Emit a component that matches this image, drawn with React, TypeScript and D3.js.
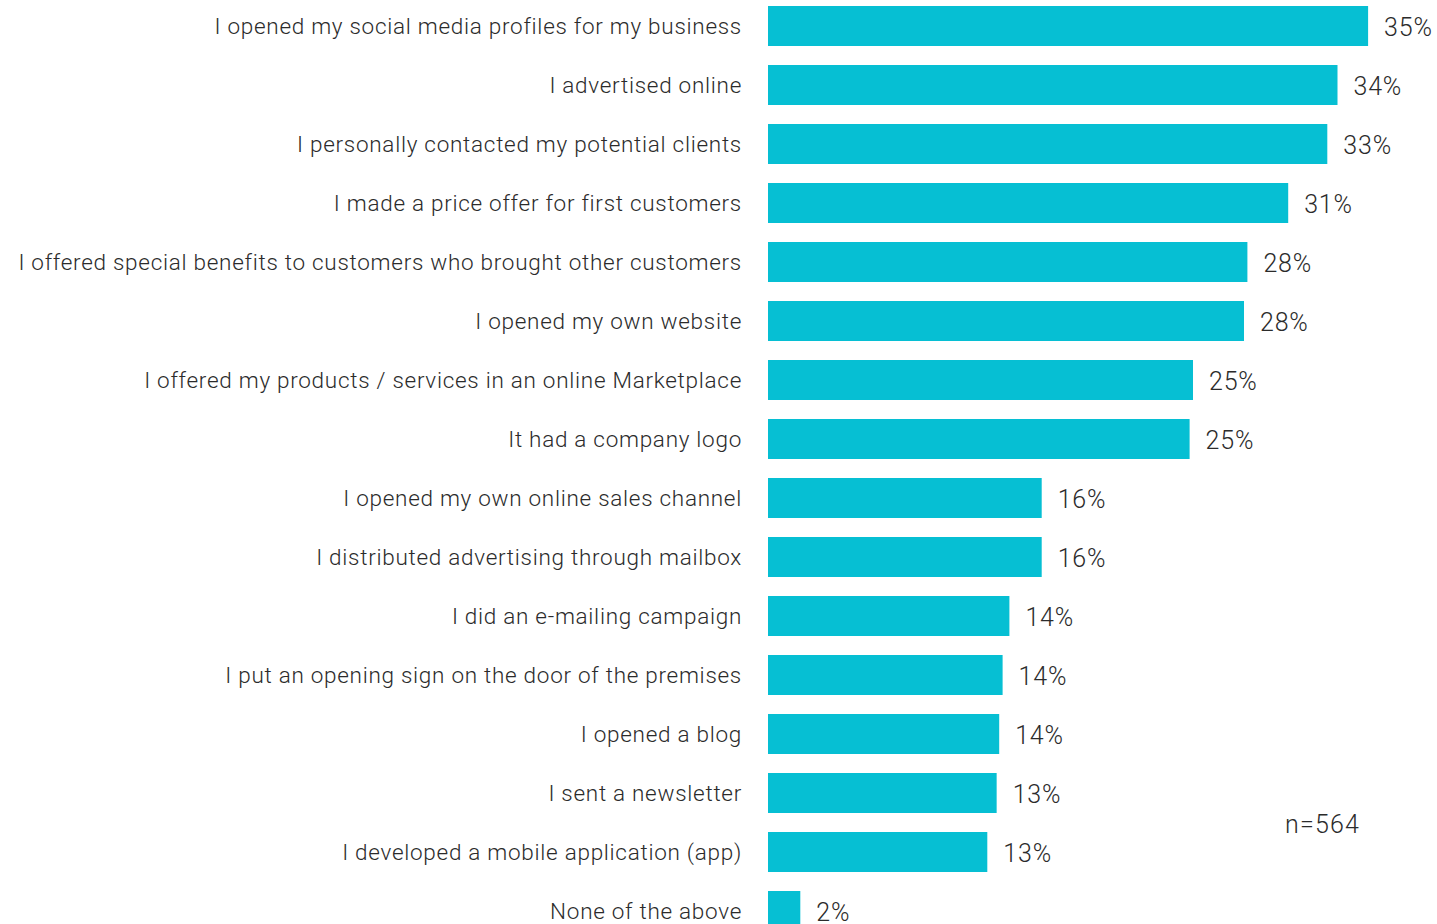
import React from "react";
import * as d3 from "d3";

const categories: string[] = [
  "I opened my social media profiles for my business",
  "I advertised online",
  "I personally contacted my potential clients",
  "I made a price offer for first customers",
  "I offered special benefits to customers who brought other customers",
  "I opened my own website",
  "I offered my products / services in an online Marketplace",
  "It had a company logo",
  "I opened my own online sales channel",
  "I distributed advertising through mailbox",
  "I did an e-mailing campaign",
  "I put an opening sign on the door of the premises",
  "I opened a blog",
  "I sent a newsletter",
  "I developed a mobile application (app)",
  "None of the above",
];

const values: number[] = [
  35.3, 33.5, 32.9, 30.6, 28.2, 28.0, 25.0, 24.8, 16.1, 16.1, 14.2, 13.8, 13.6, 13.45, 12.9, 1.9,
];

const sampleNote = "n=564";

const W = 1437;
const H = 924;
const BAR_COLOR = "#06BFD3";
const TEXT_COLOR = "#2b2b2b";
const FONT = "Roboto, 'Liberation Sans', Arial, sans-serif";

export default function App() {
  const x = d3.scaleLinear().domain([0, 100]).range([768, 768 + 1700]);
  const y = d3
    .scaleBand<string>()
    .domain(categories)
    .range([6, 931])
    .paddingInner(19 / 59)
    .paddingOuter(0);

  return (
    <svg
      width={W}
      height={H}
      style={{ position: "absolute", left: 0, top: 0, background: "#fff" }}
      fontFamily={FONT}
    >
      {categories.map((c, i) => {
        const yy = y(c)!;
        const bw = y.bandwidth();
        const v = values[i];
        return (
          <g key={c}>
            <rect x={x(0)} y={yy} width={x(v) - x(0)} height={bw} fill={BAR_COLOR} />
            <text
              x={742}
              y={yy + bw / 2 + 2}
              textAnchor="end"
              dominantBaseline="middle"
              fontSize={22.5}
              letterSpacing={0.72}
              fontWeight={300}
              fill={TEXT_COLOR}
            >
              {c}
            </text>
            <text
              x={x(v) + 16}
              y={yy + bw / 2 + 3}
              dominantBaseline="middle"
              fontSize={25}
              letterSpacing={0.8}
              fontWeight={300}
              fill={TEXT_COLOR}
            >
              {Math.round(v) + "%"}
            </text>
          </g>
        );
      })}
      <text
        x={1285}
        y={826}
        dominantBaseline="middle"
        fontSize={25}
        letterSpacing={1.2}
        fontWeight={300}
        fill={TEXT_COLOR}
      >
        {sampleNote}
      </text>
    </svg>
  );
}
